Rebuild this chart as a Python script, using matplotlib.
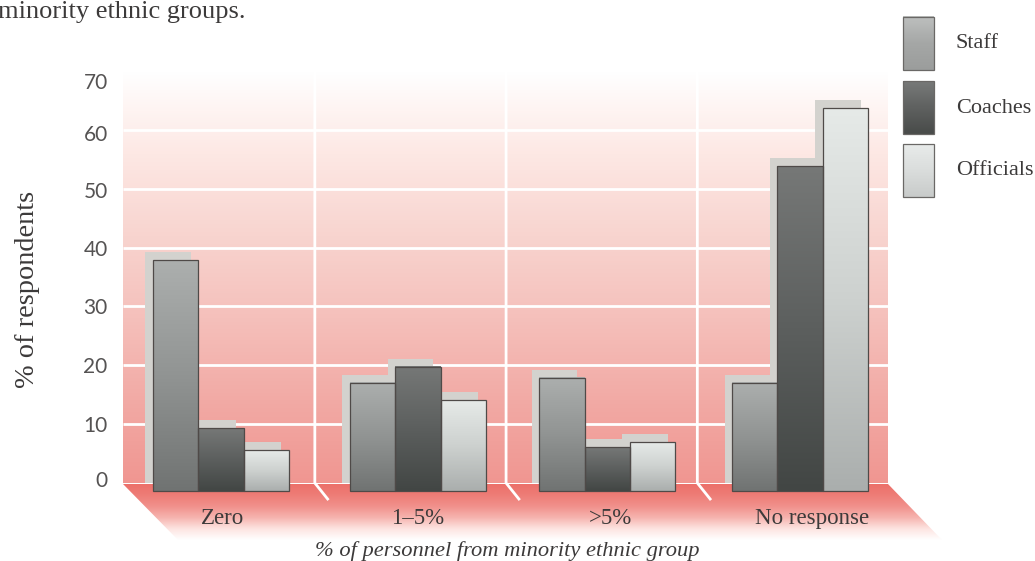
import matplotlib
matplotlib.use("Agg")
import matplotlib.pyplot as plt
import numpy as np
from matplotlib.patches import Polygon, Rectangle
from matplotlib.transforms import ScaledTranslation

# values in % of respondents
categories = ["Zero", "1–5%", ">5%", "No response"]
series_names = ["Staff", "Coaches", "Officials"]
staff = [39.2, 18.4, 19.2, 18.4]
coaches = [10.7, 21.1, 7.4, 55.2]
officials = [6.9, 15.4, 8.3, 65.0]
yticks = [0, 10, 20, 30, 40, 50, 60, 70]

W, H = 1035, 561
WALL_L, WALL_R, WALL_T, WALL_B = 123, 888, 71, 483

fig = plt.figure(figsize=(W / 100, H / 100), dpi=100)
fig.patch.set_facecolor("white")
ax = fig.add_axes([WALL_L / W, 1 - WALL_B / H, (WALL_R - WALL_L) / W, (WALL_B - WALL_T) / H])
ax.set_xlim(0, 4)
ax.set_ylim(0, 70)
ax.patch.set_visible(False)
for s in ax.spines.values():
    s.set_visible(False)

# unit sizes, used to turn px offsets into axis units
ux = (WALL_R - WALL_L) / 4
uy = (WALL_B - WALL_T) / 70


def dx(px):
    return (px - WALL_L) / ux


def dy(px):
    return (WALL_B - px) / uy


def ramp(stops, n=256):
    # vertical colour ramp, first stop at the top
    stops = np.array(stops, dtype=float) / 255
    pos = np.linspace(0, 1, len(stops))
    t = np.linspace(0, 1, n)
    rows = [np.interp(t, pos, stops[:, i]) for i in range(3)]
    return np.stack(rows, axis=1)[:, None, :]


def fill(x0, x1, y0, y1, colours, z, clip=None):
    im = ax.imshow(ramp(colours), extent=[x0, x1, y0, y1], aspect="auto",
                   origin="upper", zorder=z, interpolation="bilinear")
    if clip is not None:
        # keep the polygon clip but drop the axes box, the floor lies below it
        im.set_clip_box(fig.bbox)
        im.set_clip_path(clip)
    else:
        im.set_clip_on(False)
    return im


# back wall
fill(0, 4, 0, 70, [(255, 255, 255), (253, 232, 228), (248, 212, 207),
                   (245, 192, 187), (242, 170, 165), (240, 150, 145)], 1)

# floor, fading out towards the front
floor = Polygon([(dx(123), dy(484)), (dx(888), dy(484)), (dx(942), dy(540)), (dx(178), dy(540))],
                closed=True, transform=ax.transData, facecolor="none", edgecolor="none", clip_on=False)
ax.add_patch(floor)
fill(dx(123), dx(942), dy(540), dy(484),
     [(236, 112, 106), (238, 125, 119), (241, 145, 140), (246, 180, 175), (253, 228, 225), (255, 255, 255)],
     1, clip=floor)

# wall grid
for v in yticks[1:]:
    ax.plot([0, 4], [v, v], color="white", lw=2, zorder=2, solid_capstyle="butt")
for i in [1, 2, 3]:
    ax.plot([i + 0.003, i + 0.003, i + 0.07], [70, 0, dy(499)], color="white", lw=2, zorder=2,
            clip_on=False, solid_joinstyle="miter")

# bar layout
group_x = [0.512, 1.542, 2.532, 3.54]
bar_w = 0.237
drop = 8 / uy
back_x = -7.5 / ux

values = [staff, coaches, officials]
bar_ramps = [
    [(172, 175, 174), (145, 148, 147), (112, 115, 114)],
    [(118, 120, 119), (92, 95, 94), (66, 70, 68)],
    [(230, 234, 232), (205, 209, 207), (170, 174, 173)],
]
key_ramps = [
    [(190, 192, 191), (165, 167, 166), (155, 157, 156)],
    [(120, 122, 121), (95, 97, 96), (72, 75, 73)],
    [(232, 235, 234), (218, 221, 220), (200, 203, 202)],
]

# grey blocks on the wall, one step behind the bars
for s, vals in enumerate(values):
    xs = [g + (s - 1) * bar_w + back_x for g in group_x]
    ax.bar(xs, vals, bar_w, color="#d3d2ce", edgecolor="none", zorder=3)

for s, vals in enumerate(values):
    xs = [g + (s - 1) * bar_w for g in group_x]
    rects = ax.bar(xs, vals, bar_w, bottom=-drop, facecolor="none",
                   edgecolor="#4f4a48", lw=0.9, zorder=6, clip_on=False)
    for r in rects:
        fill(r.get_x(), r.get_x() + r.get_width(), r.get_y(), r.get_y() + r.get_height(), bar_ramps[s], 5)

# axes text
serif = "Liberation Serif"
ink = "#3c3a3a"
ax.set_yticks(yticks)
ax.set_yticklabels([str(v) for v in yticks], family="Lato", fontsize=15, color="#555353")
ax.tick_params(axis="y", length=0, pad=11)
label_nudge = [-3, 0, 0, 0, 0, 1, 2, 7]
for lab, n in zip(ax.get_yticklabels(), label_nudge):
    lab.set_transform(lab.get_transform() + ScaledTranslation(0, -n / 72, fig.dpi_scale_trans))

ax.set_xticks([dx(223), dx(418), dx(610), dx(812)])
ax.set_xticklabels(categories, family=serif, fontsize=16.5, color=ink)
ax.tick_params(axis="x", length=0, pad=18)
ax.set_xlabel("% of personnel from minority ethnic group", family=serif, style="italic",
              fontsize=16.2, color=ink, x=dx(507) / 4, labelpad=9)
ax.set_ylabel("% of respondents", family=serif, fontsize=20.4, color=ink, labelpad=31, y=0.47)

fig.text(-2 / W, 1 - 12 / H, "minority ethnic groups.", family=serif, fontsize=19, color=ink, va="center")

# key
key_tops = [17, 81, 144]
key_text_y = [44, 108, 170]
for s, name in enumerate(series_names):
    y0, y1 = dy(key_tops[s] + 53), dy(key_tops[s])
    box = Rectangle((dx(903), y0), dx(934) - dx(903), y1 - y0, facecolor="none",
                    edgecolor="#6a6866", lw=0.9, zorder=6, clip_on=False)
    ax.add_patch(box)
    fill(dx(903), dx(934), y0, y1, key_ramps[s], 5)
    ax.text(dx(956), dy(key_text_y[s]), name, family=serif, fontsize=16, color=ink,
            va="center", ha="left", clip_on=False)

ax.set_xlim(0, 4)
ax.set_ylim(0, 70)
fig.savefig("out.png", dpi=100)
